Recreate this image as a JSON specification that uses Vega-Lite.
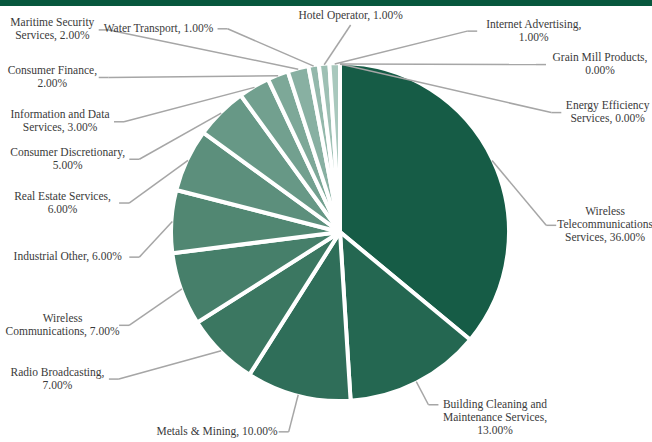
{
  "$schema": "https://vega.github.io/schema/vega-lite/v6.json",
  "width": 652,
  "height": 436,
  "autosize": "none",
  "padding": {"top": 6, "left": 0, "right": 0, "bottom": 0},
  "background": "#07573d",
  "config": {"view": {"fill": "white", "stroke": null}},
  "data": {"values": [
    {"category": "Wireless Telecommunications Services", "value": 36, "label": "Wireless\nTelecommunications\nServices, 36.00%"},
    {"category": "Building Cleaning and Maintenance Services", "value": 13, "label": "Building Cleaning and\nMaintenance Services,\n13.00%"},
    {"category": "Metals & Mining", "value": 10, "label": "Metals & Mining, 10.00%"},
    {"category": "Radio Broadcasting", "value": 7, "label": "Radio Broadcasting,\n7.00%"},
    {"category": "Wireless Communications", "value": 7, "label": "Wireless\nCommunications, 7.00%"},
    {"category": "Industrial Other", "value": 6, "label": "Industrial Other, 6.00%"},
    {"category": "Real Estate Services", "value": 6, "label": "Real Estate Services,\n6.00%"},
    {"category": "Consumer Discretionary", "value": 5, "label": "Consumer Discretionary,\n5.00%"},
    {"category": "Information and Data Services", "value": 3, "label": "Information and Data\nServices, 3.00%"},
    {"category": "Consumer Finance", "value": 2, "label": "Consumer Finance,\n2.00%"},
    {"category": "Maritime Security Services", "value": 2, "label": "Maritime Security\nServices, 2.00%"},
    {"category": "Water Transport", "value": 1, "label": "Water Transport, 1.00%"},
    {"category": "Hotel Operator", "value": 1, "label": "Hotel Operator, 1.00%"},
    {"category": "Internet Advertising", "value": 1, "label": "Internet Advertising,\n1.00%"},
    {"category": "Grain Mill Products", "value": 0, "label": "Grain Mill Products,\n0.00%"},
    {"category": "Energy Efficiency Services", "value": 0, "label": "Energy Efficiency\nServices, 0.00%"}
  ]},
  "transform": [
    {"window": [{"op": "row_number", "as": "i0"}]},
    {"calculate": "datum.i0 - 1", "as": "i"},
    {"window": [{"op": "sum", "field": "value", "as": "cum"}], "sort": [{"field": "i"}], "frame": [null, 0]},
    {"calculate": "(datum.cum - datum.value / 2) * 3.6", "as": "m"},
    {"calculate": "0.087 * datum.m - 1.2319 * sin(datum.m * PI / 90) - 0.9167 * sin(datum.m * PI / 180)", "as": "um"},
    {"calculate": "datum.um - datum.i * 1.1", "as": "t"},
    {"window": [{"op": "max", "field": "t", "as": "fmax"}], "sort": [{"field": "i"}], "frame": [null, 0]},
    {"window": [{"op": "min", "field": "t", "as": "bmin"}], "sort": [{"field": "i"}], "frame": [0, null]},
    {"calculate": "(datum.fmax + datum.bmin) / 2 + datum.i * 1.1", "as": "ul1"},
    {"joinaggregate": [{"op": "max", "field": "ul1", "as": "ulmax"}]},
    {"calculate": "datum.i == 0 ? max(datum.ul1, datum.ulmax - 31.32 + 3.3) : datum.ul1", "as": "ul"},
    {"calculate": "datum.ul / 0.087", "as": "L0"},
    {"calculate": "datum.L0 - (0.087 * datum.L0 - 1.2319 * sin(datum.L0 * PI / 90) - 0.9167 * sin(datum.L0 * PI / 180) - datum.ul) / (0.087 - 0.043 * cos(datum.L0 * PI / 90) - 0.016 * cos(datum.L0 * PI / 180))", "as": "L1"},
    {"calculate": "datum.L1 - (0.087 * datum.L1 - 1.2319 * sin(datum.L1 * PI / 90) - 0.9167 * sin(datum.L1 * PI / 180) - datum.ul) / (0.087 - 0.043 * cos(datum.L1 * PI / 90) - 0.016 * cos(datum.L1 * PI / 180))", "as": "L2"},
    {"calculate": "datum.L2 - (0.087 * datum.L2 - 1.2319 * sin(datum.L2 * PI / 90) - 0.9167 * sin(datum.L2 * PI / 180) - datum.ul) / (0.087 - 0.043 * cos(datum.L2 * PI / 90) - 0.016 * cos(datum.L2 * PI / 180))", "as": "L3"},
    {"calculate": "datum.L3 - (0.087 * datum.L3 - 1.2319 * sin(datum.L3 * PI / 90) - 0.9167 * sin(datum.L3 * PI / 180) - datum.ul) / (0.087 - 0.043 * cos(datum.L3 * PI / 90) - 0.016 * cos(datum.L3 * PI / 180))", "as": "L4"},
    {"calculate": "datum.L4 - (0.087 * datum.L4 - 1.2319 * sin(datum.L4 * PI / 90) - 0.9167 * sin(datum.L4 * PI / 180) - datum.ul) / (0.087 - 0.043 * cos(datum.L4 * PI / 90) - 0.016 * cos(datum.L4 * PI / 180))", "as": "L5"},
    {"calculate": "sin(datum.L5 * PI / 180)", "as": "s"},
    {"calculate": "cos(datum.L5 * PI / 180)", "as": "c"},
    {"calculate": "split(datum.label, '\\n')", "as": "parts"},
    {"calculate": "length(datum.parts)", "as": "n"},
    {"calculate": "5.1 * max(length(datum.parts[0]), length(datum.parts[1] || ''), length(datum.parts[2] || ''))", "as": "w"},
    {"calculate": "datum.c >= 0 ? 207 : 200 - (datum.n - 1) * 13", "as": "bb"},
    {"calculate": "pow(pow(abs(datum.s) / 280, 4) + pow(abs(datum.c) / datum.bb, 4), -0.25)", "as": "rx"},
    {"calculate": "pow(pow(abs(datum.s) / 215, 4) + pow(abs(datum.c) / datum.bb, 4), -0.25)", "as": "ry"},
    {"calculate": "datum.rx * datum.s", "as": "ax0"},
    {"calculate": "(abs(datum.s) < 0.2 && datum.c > 0) ? 0 : (datum.s >= 0 ? 1 : -1)", "as": "side"},
    {"calculate": "datum.s < -0.6 && datum.c > -0.85", "as": "col"},
    {"calculate": "datum.ry * datum.c + (datum.col ? 28 : 0)", "as": "ay"},
    {"calculate": "datum.col ? -330 + datum.w + 12 : (datum.side == -1 ? max(datum.ax0, -330 + datum.w + 12) : (datum.side == 1 ? min(datum.ax0, 310 - datum.w - 12) : datum.ax0))", "as": "ax"},
    {"calculate": "datum.ax + datum.side * 10", "as": "sx"},
    {"calculate": "datum.sx + datum.side * (3 + datum.w / 2)", "as": "tx"},
    {"calculate": "datum.side == 0 ? datum.ay + 9 + (datum.n - 1) * 13 : (datum.c < -0.8 ? datum.ay : datum.ay + (datum.n - 1) * 6.5)", "as": "ty"},
    {"calculate": "168 * sin(datum.m * PI / 180)", "as": "ex"},
    {"calculate": "168 * cos(datum.m * PI / 180)", "as": "ey"}
  ],
  "layer": [
    {
      "mark": {"type": "arc", "outerRadius": 169, "stroke": "white", "strokeWidth": 4},
      "encoding": {
        "x": {"datum": 0, "type": "quantitative", "scale": {"domain": [-340, 312], "nice": false, "zero": false}, "axis": null},
        "y": {"datum": 0, "type": "quantitative", "scale": {"domain": [-210, 226], "nice": false, "zero": false}, "axis": null},
        "theta": {"field": "value", "type": "quantitative", "stack": true},
        "order": {"field": "i", "type": "quantitative"},
        "color": {
          "field": "category", "type": "nominal", "legend": null,
          "scale": {
            "domain": ["Wireless Telecommunications Services", "Building Cleaning and Maintenance Services", "Metals & Mining", "Radio Broadcasting", "Wireless Communications", "Industrial Other", "Real Estate Services", "Consumer Discretionary", "Information and Data Services", "Consumer Finance", "Maritime Security Services", "Water Transport", "Hotel Operator", "Internet Advertising", "Grain Mill Products", "Energy Efficiency Services"],
            "range": ["#165c46", "#246751", "#2f6e59", "#3b7761", "#467f6a", "#518772", "#5c8f7c", "#679886", "#72a08f", "#7da898", "#88b0a2", "#93b8ab", "#9ec0b4", "#a9c8bd", "#b4d0c6", "#bfd8cf"]
          }
        }
      }
    },
    {
      "mark": {"type": "rule", "color": "#a6a6a6", "strokeWidth": 1.5},
      "encoding": {
        "x": {"field": "ex", "type": "quantitative", "scale": {"domain": [-340, 312], "nice": false, "zero": false}, "axis": null},
        "y": {"field": "ey", "type": "quantitative", "scale": {"domain": [-210, 226], "nice": false, "zero": false}, "axis": null},
        "x2": {"field": "ax"},
        "y2": {"field": "ay"}
      }
    },
    {
      "mark": {"type": "rule", "color": "#a6a6a6", "strokeWidth": 1.5},
      "encoding": {
        "x": {"field": "ax", "type": "quantitative", "scale": {"domain": [-340, 312], "nice": false, "zero": false}, "axis": null},
        "y": {"field": "ay", "type": "quantitative", "scale": {"domain": [-210, 226], "nice": false, "zero": false}, "axis": null},
        "x2": {"field": "sx"}
      }
    },
    {
      "mark": {"type": "text", "align": "center", "baseline": "middle", "font": "Liberation Serif", "fontSize": 11.5, "lineHeight": 13, "lineBreak": "\n", "color": "#3a3a3a"},
      "encoding": {
        "x": {"field": "tx", "type": "quantitative", "scale": {"domain": [-340, 312], "nice": false, "zero": false}, "axis": null},
        "y": {"field": "ty", "type": "quantitative", "scale": {"domain": [-210, 226], "nice": false, "zero": false}, "axis": null},
        "text": {"field": "label", "type": "nominal"}
      }
    }
  ]
}
